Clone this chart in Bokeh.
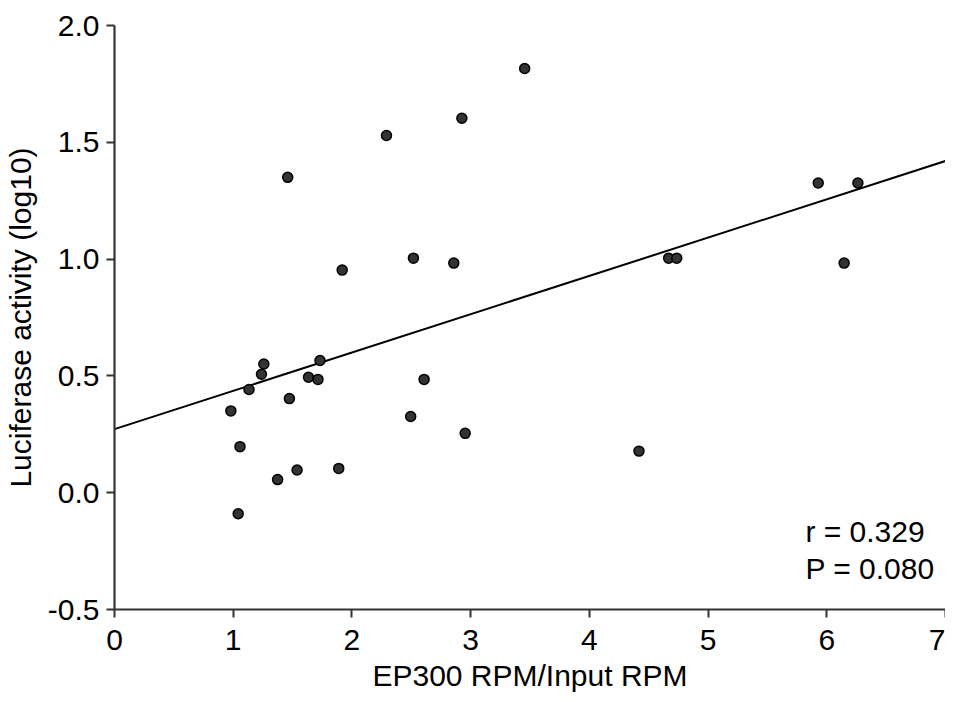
from bokeh.plotting import figure
from bokeh.models import Range1d, Label, FixedTicker, CustomJSTickFormatter
from bokeh.embed import file_html
from bokeh.resources import INLINE

# Data
x_vals = [1.459, 2.291, 2.926, 1.918, 2.518, 2.858,
          0.980, 1.057, 1.042, 1.133, 1.238, 1.258, 1.374, 1.473, 1.538,
          1.634, 1.714, 1.731, 1.889, 2.495, 2.608, 2.954,
          3.455, 4.668, 4.736, 5.928, 6.262, 6.146, 4.418]
y_vals = [1.350, 1.529, 1.603, 0.953, 1.004, 0.983,
          0.350, 0.197, -0.090, 0.442, 0.507, 0.551, 0.056, 0.403, 0.097,
          0.494, 0.485, 0.566, 0.104, 0.326, 0.485, 0.254,
          1.816, 1.004, 1.004, 1.326, 1.326, 0.983, 0.178]
fit_x = [0, 7]
fit_y = [0.272, 1.420]
x_ticks = [0, 1, 2, 3, 4, 5, 6, 7]
y_ticks = [-0.5, 0.0, 0.5, 1.0, 1.5, 2.0]
stat_lines = ["r = 0.329", "P = 0.080"]

FONT = "Liberation Sans"
FS = "30px"
AX = "#333333"

p = figure(width=945, height=694, output_backend="svg", toolbar_location=None,
           x_range=Range1d(0, 7), y_range=Range1d(-0.5, 2.0),
           min_border_left=113, min_border_right=0, min_border_top=25,
           min_border_bottom=85)
p.outline_line_color = None
p.grid.visible = False
p.background_fill_color = "white"

p.line(fit_x, fit_y, line_color="black", line_width=2)
p.scatter(x_vals, y_vals, size=10, fill_color="#333333", line_color="black",
          line_width=1.5)

for ax in (p.xaxis[0], p.yaxis[0]):
    ax.axis_line_color = AX
    ax.axis_line_width = 2.2
    ax.major_tick_line_color = AX
    ax.major_tick_line_width = 2
    ax.major_tick_out = 8
    ax.major_tick_in = 0
    ax.minor_tick_out = 0
    ax.minor_tick_in = 0
    ax.major_label_text_font = FONT
    ax.major_label_text_font_size = FS
    ax.major_label_text_color = "black"
    ax.axis_label_text_font = FONT
    ax.axis_label_text_font_size = FS
    ax.axis_label_text_font_style = "normal"
    ax.axis_label_text_color = "black"

p.xaxis[0].ticker = FixedTicker(ticks=x_ticks)
p.yaxis[0].ticker = FixedTicker(ticks=y_ticks)
p.yaxis[0].formatter = CustomJSTickFormatter(code="return tick.toFixed(1);")
p.xaxis[0].axis_label = "EP300 RPM/Input RPM"
p.yaxis[0].axis_label = "Luciferase activity (log10)"
p.xaxis[0].major_label_standoff = 12
p.yaxis[0].major_label_standoff = 7
p.xaxis[0].axis_label_standoff = 6
p.yaxis[0].axis_label_standoff = 8

p.add_layout(Label(x=5.82, y=-0.167, text=stat_lines[0], text_font=FONT,
                   text_font_size=FS, text_baseline="alphabetic",
                   text_color="black"))
p.add_layout(Label(x=5.82, y=-0.326, text=stat_lines[1], text_font=FONT,
                   text_font_size=FS, text_baseline="alphabetic",
                   text_color="black"))

open("out.html", "w").write(file_html(p, INLINE))
